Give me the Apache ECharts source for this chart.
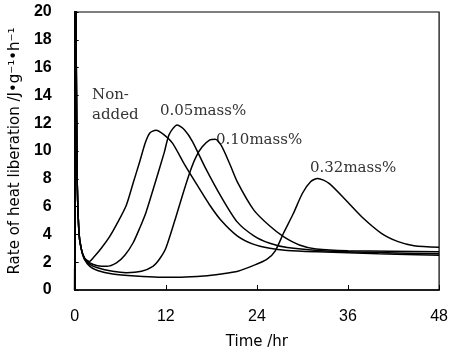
<!DOCTYPE html>
<html>
<head>
<meta charset="utf-8">
<script src="https://cdn.jsdelivr.net/npm/echarts@6/dist/echarts.min.js"></script>
<style>html,body{margin:0;padding:0;background:#fff}#c{width:451px;height:355px}</style>
</head>
<body>
<div id="c"></div>
<script>
// Data: [time (hr), rate of heat liberation]
const xTicks = [0, 12, 24, 36, 48];
const yTicks = [0, 2, 4, 6, 8, 10, 12, 14, 16, 18, 20];

const nonAdded = [[0,0],[0.1,26],[0.3,9],[0.55,4.2],[0.85,3.0],[1.3,2.3],[1.9,2.05],[2.5,2.35],[3.5,3.0],[4.6,3.84],[5.7,4.9],[6.8,6.1],[7.7,7.7],[8.6,9.3],[9.3,10.6],[9.9,11.3],[10.7,11.5],[11.7,11.2],[12.9,10.55],[14.5,9.0],[16.3,7.4],[17.8,6.1],[19.3,5.0],[21.4,3.9],[23.5,3.3],[25.7,3.0],[28,2.85],[32,2.75],[40,2.6],[48,2.5]];
const mass005 = [[0,0],[0.1,26],[0.3,9],[0.55,4.2],[0.85,3.0],[1.3,2.3],[2,1.95],[3,1.75],[4.2,1.7],[5.5,1.95],[6.6,2.5],[7.7,3.4],[8.6,4.5],[9.4,5.6],[10.7,7.9],[11.8,9.9],[12.45,11.2],[13.5,11.87],[14.5,11.5],[15.5,10.7],[17.2,8.8],[19.3,6.7],[21.4,4.9],[23.6,3.9],[25.7,3.36],[28,3.05],[32,2.85],[40,2.7],[48,2.6]];
const mass010 = [[0,0],[0.1,26],[0.3,9],[0.55,4.2],[0.85,3.0],[1.3,2.2],[2,1.85],[3,1.6],[5,1.35],[6.8,1.25],[8.8,1.35],[10.3,1.7],[11.2,2.25],[12,3.0],[13.3,5.2],[14.3,7.0],[15.25,8.6],[16,9.6],[16.8,10.3],[17.8,10.8],[18.5,10.85],[19.3,10.4],[20.4,9.1],[21.4,7.8],[23.6,5.75],[25.7,4.6],[27.5,3.84],[29.6,3.24],[31.8,2.95],[36,2.82],[48,2.75]];
const mass032 = [[0,0],[0.1,26],[0.3,9],[0.55,4.2],[0.85,3.0],[1.3,2.2],[2,1.7],[3,1.4],[5,1.15],[8,1.0],[11,0.92],[14,0.92],[17,1.0],[19.3,1.15],[21.5,1.35],[23.5,1.75],[25.3,2.2],[26.4,2.8],[27.5,4.08],[28.8,5.5],[30,6.96],[31.1,7.8],[32,8.03],[33.5,7.67],[35.7,6.47],[37.8,5.27],[40.4,4.08],[42.6,3.48],[44.7,3.19],[48,3.07]];

const seriesNames = ['Non-added', '0.05mass%', '0.10mass%', '0.32mass%'];
const seriesData = [nonAdded, mass005, mass010, mass032];

const chart = echarts.init(document.getElementById('c'), null, {renderer: 'canvas'});
const annoFont = {fontFamily: 'DejaVu Serif', fontSize: 15, fill: '#333'};
chart.setOption({
  animation: false,
  backgroundColor: '#fff',
  grid: {left: 71, right: 9, top: 12, bottom: 65, show: true, borderColor: '#000', borderWidth: 1.2, backgroundColor: 'transparent'},
  xAxis: {
    type: 'value', min: 0, max: 48, interval: 12,
    name: 'Time /hr', nameLocation: 'middle', nameGap: 45,
    nameTextStyle: {fontFamily: 'DejaVu Sans', fontSize: 15, color: '#000'},
    axisLine: {lineStyle: {color: '#000', width: 1.5}},
    axisTick: {inside: true, length: 5, lineStyle: {color: '#000'}},
    axisLabel: {margin: 19, fontFamily: 'Liberation Sans', fontSize: 16, color: '#000',
      formatter: v => xTicks.includes(v) ? String(v) : ''},
    splitLine: {show: false}
  },
  yAxis: {
    type: 'value', min: 0, max: 20, interval: 2,
    name: 'Rate of heat liberation /J•g⁻¹•h⁻¹', nameLocation: 'middle', nameGap: 49,
    nameTextStyle: {fontFamily: 'DejaVu Sans', fontSize: 15, color: '#000'},
    axisLine: {lineStyle: {color: '#000', width: 1.5}},
    axisTick: {inside: true, length: 4, lineStyle: {color: '#000'}},
    axisLabel: {margin: 23, fontFamily: 'Liberation Sans', fontSize: 16, fontWeight: 'bold', color: '#000',
      formatter: v => yTicks.includes(v) ? String(v) : ''},
    splitLine: {show: false}
  },
  series: seriesData.map((d, i) => ({
    name: seriesNames[i], type: 'line', data: d, showSymbol: false, symbol: 'none',
    smooth: 0.25, clip: true,
    lineStyle: {color: '#000', width: 1.5}
  })),
  graphic: [
    {type: 'text', left: 92, top: 88, style: Object.assign({text: 'Non-'}, annoFont)},
    {type: 'text', left: 92, top: 108, style: Object.assign({text: 'added'}, annoFont)},
    {type: 'text', left: 160, top: 104, style: Object.assign({text: '0.05mass%'}, annoFont)},
    {type: 'text', left: 216, top: 133, style: Object.assign({text: '0.10mass%'}, annoFont)},
    {type: 'text', left: 310, top: 161, style: Object.assign({text: '0.32mass%'}, annoFont)}
  ]
});
</script>
</body>
</html>
